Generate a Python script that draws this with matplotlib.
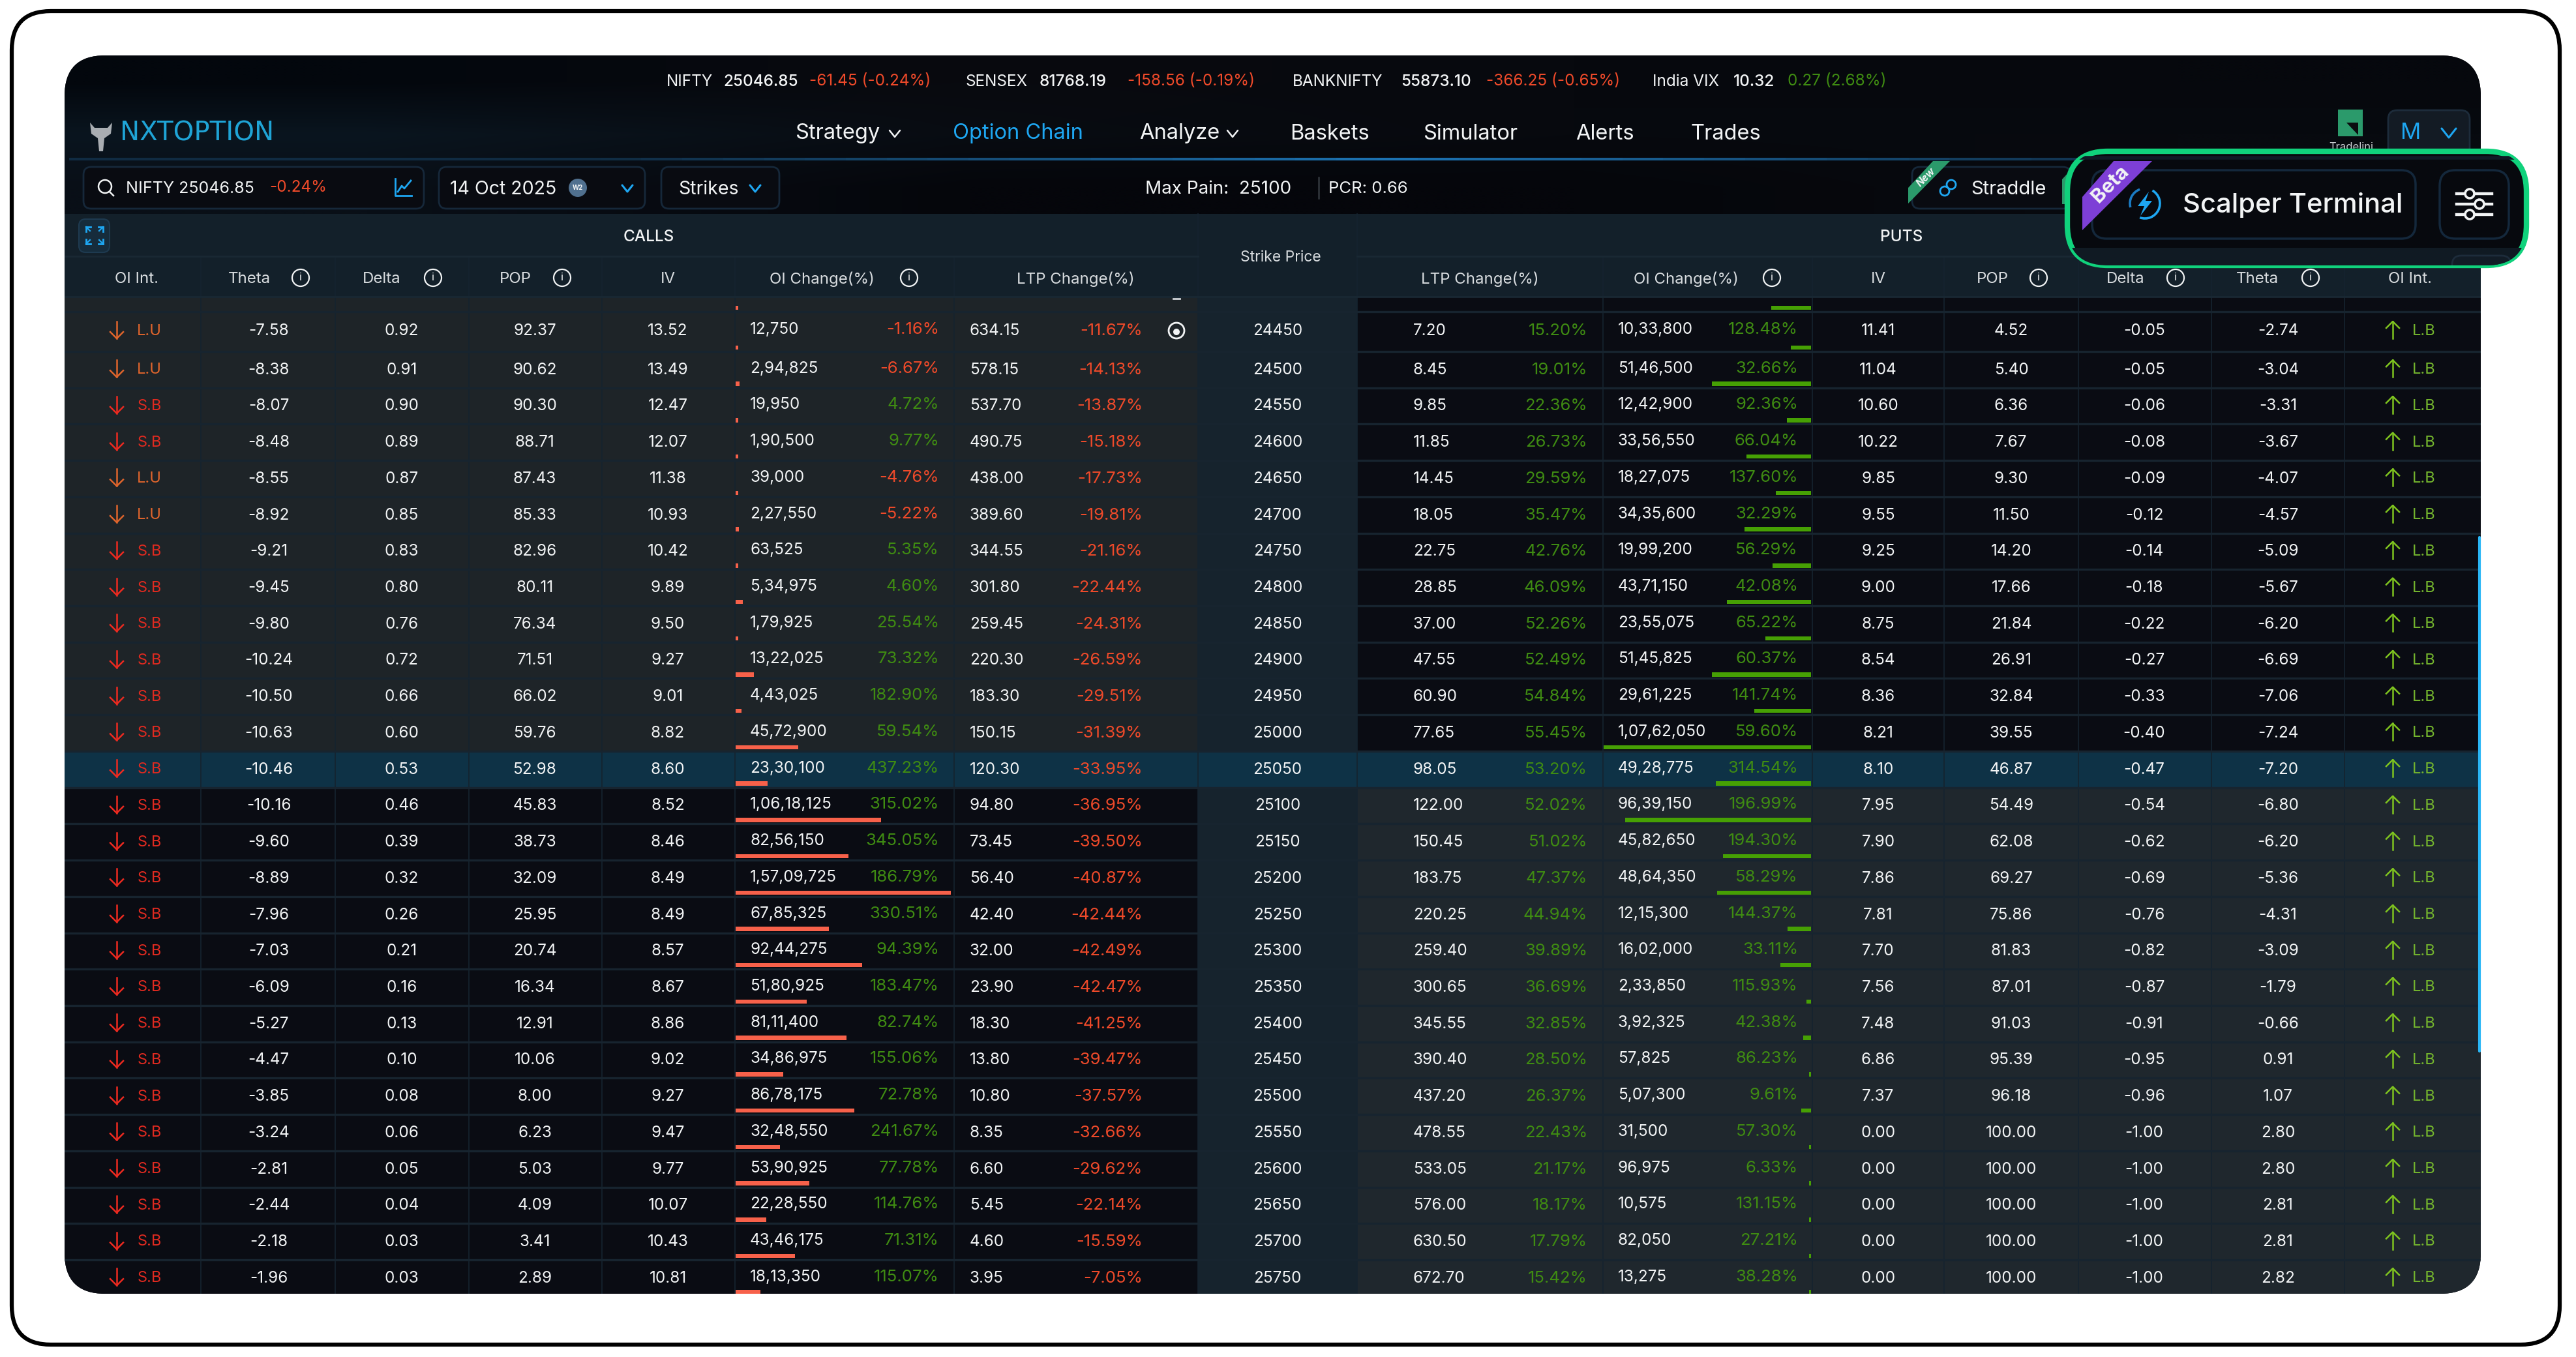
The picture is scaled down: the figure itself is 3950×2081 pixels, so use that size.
import numpy as np
import matplotlib
matplotlib.use("Agg")
import matplotlib.pyplot as plt
from matplotlib.patches import FancyBboxPatch, Rectangle, Circle, Polygon, Arc

plt.rcParams['font.family'] = ['Inter', 'DejaVu Sans']

strikes = [24450,24500,24550,24600,24650,24700,24750,24800,24850,24900,24950,25000,25050,25100,
           25150,25200,25250,25300,25350,25400,25450,25500,25550,25600,25650,25700,25750]
call_build = ["L.U","L.U","S.B","S.B","L.U","L.U"] + ["S.B"]*21
call_theta = ["-7.58","-8.38","-8.07","-8.48","-8.55","-8.92","-9.21","-9.45","-9.80","-10.24","-10.50","-10.63","-10.46","-10.16",
              "-9.60","-8.89","-7.96","-7.03","-6.09","-5.27","-4.47","-3.85","-3.24","-2.81","-2.44","-2.18","-1.96"]
call_delta = ["0.92","0.91","0.90","0.89","0.87","0.85","0.83","0.80","0.76","0.72","0.66","0.60","0.53","0.46",
              "0.39","0.32","0.26","0.21","0.16","0.13","0.10","0.08","0.06","0.05","0.04","0.03","0.03"]
call_pop = ["92.37","90.62","90.30","88.71","87.43","85.33","82.96","80.11","76.34","71.51","66.02","59.76","52.98","45.83",
            "38.73","32.09","25.95","20.74","16.34","12.91","10.06","8.00","6.23","5.03","4.09","3.41","2.89"]
call_iv = ["13.52","13.49","12.47","12.07","11.38","10.93","10.42","9.89","9.50","9.27","9.01","8.82","8.60","8.52",
           "8.46","8.49","8.49","8.57","8.67","8.86","9.02","9.27","9.47","9.77","10.07","10.43","10.81"]
call_oi = ["12,750","2,94,825","19,950","1,90,500","39,000","2,27,550","63,525","5,34,975","1,79,925","13,22,025","4,43,025","45,72,900","23,30,100","1,06,18,125",
           "82,56,150","1,57,09,725","67,85,325","92,44,275","51,80,925","81,11,400","34,86,975","86,78,175","32,48,550","53,90,925","22,28,550","43,46,175","18,13,350"]
call_oi_chg = ["-1.16","-6.67","4.72","9.77","-4.76","-5.22","5.35","4.60","25.54","73.32","182.90","59.54","437.23","315.02",
               "345.05","186.79","330.51","94.39","183.47","82.74","155.06","72.78","241.67","77.78","114.76","71.31","115.07"]
call_ltp = ["634.15","578.15","537.70","490.75","438.00","389.60","344.55","301.80","259.45","220.30","183.30","150.15","120.30","94.80",
            "73.45","56.40","42.40","32.00","23.90","18.30","13.80","10.80","8.35","6.60","5.45","4.60","3.95"]
call_ltp_chg = ["-11.67","-14.13","-13.87","-15.18","-17.73","-19.81","-21.16","-22.44","-24.31","-26.59","-29.51","-31.39","-33.95","-36.95",
                "-39.50","-40.87","-42.44","-42.49","-42.47","-41.25","-39.47","-37.57","-32.66","-29.62","-22.14","-15.59","-7.05"]

put_ltp = ["7.20","8.45","9.85","11.85","14.45","18.05","22.75","28.85","37.00","47.55","60.90","77.65","98.05","122.00",
           "150.45","183.75","220.25","259.40","300.65","345.55","390.40","437.20","478.55","533.05","576.00","630.50","672.70"]
put_ltp_chg = ["15.20","19.01","22.36","26.73","29.59","35.47","42.76","46.09","52.26","52.49","54.84","55.45","53.20","52.02",
               "51.02","47.37","44.94","39.89","36.69","32.85","28.50","26.37","22.43","21.17","18.17","17.79","15.42"]
put_oi = ["10,33,800","51,46,500","12,42,900","33,56,550","18,27,075","34,35,600","19,99,200","43,71,150","23,55,075","51,45,825","29,61,225","1,07,62,050","49,28,775","96,39,150",
          "45,82,650","48,64,350","12,15,300","16,02,000","2,33,850","3,92,325","57,825","5,07,300","31,500","96,975","10,575","82,050","13,275"]
put_oi_chg = ["128.48","32.66","92.36","66.04","137.60","32.29","56.29","42.08","65.22","60.37","141.74","59.60","314.54","196.99",
              "194.30","58.29","144.37","33.11","115.93","42.38","86.23","9.61","57.30","6.33","131.15","27.21","38.28"]
put_iv = ["11.41","11.04","10.60","10.22","9.85","9.55","9.25","9.00","8.75","8.54","8.36","8.21","8.10","7.95",
          "7.90","7.86","7.81","7.70","7.56","7.48","6.86","7.37","0.00","0.00","0.00","0.00","0.00"]
put_pop = ["4.52","5.40","6.36","7.67","9.30","11.50","14.20","17.66","21.84","26.91","32.84","39.55","46.87","54.49",
           "62.08","69.27","75.86","81.83","87.01","91.03","95.39","96.18","100.00","100.00","100.00","100.00","100.00"]
put_delta = ["-0.05","-0.05","-0.06","-0.08","-0.09","-0.12","-0.14","-0.18","-0.22","-0.27","-0.33","-0.40","-0.47","-0.54",
             "-0.62","-0.69","-0.76","-0.82","-0.87","-0.91","-0.95","-0.96","-1.00","-1.00","-1.00","-1.00","-1.00"]
put_theta = ["-2.74","-3.04","-3.31","-3.67","-4.07","-4.57","-5.09","-5.67","-6.20","-6.69","-7.06","-7.24","-7.20","-6.80",
             "-6.20","-5.36","-4.31","-3.09","-1.79","-0.66","0.91","1.07","2.80","2.80","2.81","2.81","2.82"]

hidden_call_oi = 12000     # row scrolled away above 24450, only its bar shows
hidden_put_oi = 2060000

tickers = [("NIFTY","25046.85","-61.45 (-0.24%)"),("SENSEX","81768.19","-158.56 (-0.19%)"),
           ("BANKNIFTY","55873.10","-366.25 (-0.65%)"),("India VIX","10.32","0.27 (2.68%)")]
nav_items = ["Strategy","Option Chain","Analyze","Baskets","Simulator","Alerts","Trades"]

WHITE = "#f2f4f5"
RED = "#ef4a2a"
GREEN = "#3f8c12"
BAR_RED = "#f7614a"
BAR_GREEN = "#46a004"
LINE = "#15232f"
GREY_ROW = "#1e2428"
DARK_ROW = "#0a0c13"
PUT_GREY = "#1f272d"
HI_ROW = "#0e3246"
HEAD = "#13202a"
BLUE = "#1ea7f2"

fig = plt.figure(figsize=(39.5, 20.81), dpi=100, facecolor="white")
ax = fig.add_axes([0, 0, 1, 1])
ax.set_xlim(0, 3950)
ax.set_ylim(2081, 0)
ax.axis("off")

def rbox(x0, y0, x1, y1, r, **kw):
    p = FancyBboxPatch((x0 + r, y0 + r), x1 - x0 - 2 * r, y1 - y0 - 2 * r,
                       boxstyle="round,pad=%f,rounding_size=%f" % (r, r), **kw)
    ax.add_patch(p)
    return p

def txt(x, y, s, c=WHITE, size=17.5, ha="center", **kw):
    # Inter sits a little high with va=center
    return ax.text(x, y + 2, s, color=c, fontsize=size, ha=ha, va="center", **kw)

def chevron(x, y, w, h, c, lw=2.2, z=7):
    ax.plot([x - w, x, x + w], [y - h, y + h, y - h], color=c, lw=lw, solid_capstyle="round", zorder=z)

def row_arrow(x, y, up, c):
    d = -1 if up else 1
    ax.plot([x, x], [y - 13, y + 13], color=c, lw=1.8, zorder=6)
    ax.plot([x - 10, x, x + 10], [y + d * 3, y + d * 13, y + d * 3], color=c, lw=1.8, zorder=6)

def info(x, y):
    ax.add_patch(Circle((x, y), 13, fill=False, ec=WHITE, lw=1.6, zorder=5))
    txt(x, y - 2, "i", size=12, zorder=6)

# outer white card with black frame
rbox(18, 17, 3925, 2062, 60, fc="white", ec="black", lw=4.5)

# dark app panel
panel = rbox(99, 85, 3804, 1984, 62, fc="#07090f", ec="none")

def clipped(a):
    a.set_clip_path(panel)
    return a

top = np.array([[[3, 7, 13], [9, 10, 15], [7, 9, 14], [6, 8, 13]],
                [[10, 21, 31], [8, 12, 18], [7, 9, 14], [7, 10, 15]],
                [[9, 15, 23], [5, 6, 11], [5, 6, 11], [8, 10, 15]]], dtype=float) / 255
clipped(ax.imshow(top, extent=(99, 3804, 328, 85), aspect="auto", interpolation="bilinear", zorder=1))
ax.set_xlim(0, 3950)
ax.set_ylim(2081, 0)

col_edges = [99, 308, 514, 719, 923, 1127, 1463, 1837, 2081, 2458, 2779, 2981, 3187, 3391, 3595, 3804]
HEAD_TOP = 328
GROUP_BOT = 393
LABEL_BOT = 455
FIRST_TOP = 478
ROW0_BOT = 539
ROW_H = 55.72
HI = strikes.index(25050)

# table background
clipped(ax.add_patch(Rectangle((99, HEAD_TOP), 3705, LABEL_BOT - HEAD_TOP, fc=HEAD, ec="none", zorder=2)))
row_tops = [FIRST_TOP] + [ROW0_BOT + ROW_H * i for i in range(len(strikes) - 1)]
row_bots = [ROW0_BOT + ROW_H * i for i in range(len(strikes))]
clipped(ax.add_patch(Rectangle((99, LABEL_BOT), 1738, FIRST_TOP - LABEL_BOT, fc=GREY_ROW, ec="none", zorder=2)))
clipped(ax.add_patch(Rectangle((2081, LABEL_BOT), 1723, FIRST_TOP - LABEL_BOT, fc=DARK_ROW, ec="none", zorder=2)))
clipped(ax.add_patch(Rectangle((1837, LABEL_BOT), 244, 1984 - LABEL_BOT, fc="#16232d", ec="none", zorder=2)))
for i, s in enumerate(strikes):
    h = row_bots[i] - row_tops[i]
    lc = GREY_ROW if i < HI else DARK_ROW
    rc = DARK_ROW if i < HI else PUT_GREY
    if i == HI:
        lc = rc = HI_ROW
        clipped(ax.add_patch(Rectangle((1837, row_tops[i]), 244, h, fc=HI_ROW, ec="none", zorder=2.1)))
    clipped(ax.add_patch(Rectangle((99, row_tops[i]), 1738, h, fc=lc, ec="none", zorder=2)))
    clipped(ax.add_patch(Rectangle((2081, row_tops[i]), 1723, h, fc=rc, ec="none", zorder=2)))

# grid lines
for x in col_edges[1:-1]:
    y0 = HEAD_TOP if x in (1837, 2081) else GROUP_BOT
    clipped(ax.plot([x, x], [y0, 1984], color=LINE, lw=1.2, zorder=3)[0])
clipped(ax.plot([99, 1837], [GROUP_BOT, GROUP_BOT], color="#192833", lw=2, zorder=3)[0])
clipped(ax.plot([2081, 3804], [GROUP_BOT, GROUP_BOT], color="#192833", lw=2, zorder=3)[0])
clipped(ax.plot([99, 3804], [LABEL_BOT, LABEL_BOT], color="#192833", lw=2, zorder=3)[0])
for y in [FIRST_TOP] + row_bots[:-1]:
    clipped(ax.plot([99, 3804], [y, y], color="#17242f", lw=2.4, zorder=3)[0])

# ticker strip
ticker_x = [(1022, 1109, 1241), (1480, 1594, 1729), (1982, 2148, 2279), (2534, 2658, 2741)]
for (name, val, chg), (x0, x1, x2) in zip(tickers, ticker_x):
    txt(x0, 123, name, size=17.5, ha="left", zorder=6)
    txt(x1, 123, val, size=17.5, ha="left", zorder=6, fontweight="medium")
    txt(x2, 123, chg, c=GREEN if chg[0] != "-" else RED, size=17.5, ha="left", zorder=6)

# logo and nav
txt(184, 203, "NXTOPTION", c="#1fa4d6", size=29, ha="left", zorder=6, family="DejaVu Sans")
ax.add_patch(Polygon([(138, 188), (145, 196), (165, 196), (172, 188), (170, 205), (160, 212), (158, 232), (152, 232), (150, 212), (140, 205)],
                     fc="#a9adb2", ec="none", zorder=6))
nav_x = [1219, 1461, 1747, 1978, 2182, 2416, 2592]
for name, x in zip(nav_items, nav_x):
    txt(x, 203, name, c=BLUE if name == "Option Chain" else WHITE, size=23.5, ha="left", zorder=6)
chevron(1372, 205, 8, 5, WHITE, 1.8)
chevron(1890, 205, 8, 5, WHITE, 1.8)

# blue divider under nav, brighter in the middle
seg_x = np.linspace(106, 3804, 60)
for k in range(59):
    a = max(0.2, 1 - abs((seg_x[k] - 2100) / 1500))
    clipped(ax.plot(seg_x[k:k + 2], [244, 244], color=(0.06 * a + 0.05, 0.35 * a + 0.1, 0.55 * a + 0.15), lw=3, zorder=3, solid_capstyle="butt")[0])

# toolbar
for box in [(128, 256, 650, 320), (673, 256, 989, 320), (1014, 256, 1195, 320), (2932, 256, 3175, 320)]:
    rbox(box[0], box[1], box[2], box[3], 12, fc="#090b11", ec="#16283a", lw=2, zorder=4)
ax.add_patch(Circle((161, 286), 10, fill=False, ec=WHITE, lw=1.8, zorder=6))
ax.plot([168, 174], [294, 300], color=WHITE, lw=1.8, zorder=6)
txt(193, 287, "NIFTY 25046.85", size=18, ha="left", zorder=6)
txt(413, 285, "-0.24%", c=RED, size=17.5, ha="left", zorder=6)
ax.plot([606, 606, 631], [274, 300, 300], color=BLUE, lw=2, zorder=6)
ax.plot([610, 616, 620, 630], [294, 285, 289, 277], color=BLUE, lw=2, zorder=6)
txt(690, 288, "14 Oct 2025", size=20.5, ha="left", zorder=6)
ax.add_patch(Circle((886, 288), 14, fc="#50708f", ec="none", zorder=6))
txt(886, 286, "W2", size=7, zorder=7, fontweight="bold")
chevron(962, 289, 8, 5, BLUE)
txt(1040, 288, "Strikes", size=20.5, ha="left", zorder=6)
chevron(1158, 289, 8, 5, BLUE)
txt(1756, 288, "Max Pain:  25100", size=20, ha="left", zorder=6)
ax.plot([2022, 2022], [272, 304], color="#33383e", lw=1.8, zorder=6)
txt(2037, 288, "PCR: 0.66", size=18.5, ha="left", zorder=6)
txt(3022, 288, "Straddle", size=21, ha="left", zorder=6)
ax.add_patch(Polygon([(2964, 247), (2990, 247), (2926, 312), (2926, 288)], fc="#2b9a6b", ec="none", zorder=6))
txt(2953, 270, "New", size=11, rotation=45, zorder=7, fontweight="bold", style="italic")
for dy in (-5, 5):
    ax.add_patch(Circle((2987 + -dy, 288 + dy), 7, fill=False, ec=BLUE, lw=2, zorder=6))

# tradelini and user box
ax.add_patch(Rectangle((3585, 168), 38, 41, fc="#2b9a6b", ec="none", zorder=5))
ax.add_patch(Polygon([(3598, 188), (3616, 188), (3616, 207)], fc="#0b0d10", ec="none", zorder=6))
txt(3605, 224, "Tradelini", size=12, zorder=5, c="#c8ccd0")
rbox(3662, 169, 3787, 250, 14, fc="#131b24", ec="#1d2c3b", lw=2, zorder=4)
txt(3697, 202, "M", c=BLUE, size=25, zorder=6)
chevron(3755, 204, 11, 7, BLUE)

# scroll bar
ax.plot([3802, 3802], [824, 1612], color="#29b6f6", lw=3, zorder=6, solid_capstyle="round")

# table head
rbox(121, 336, 168, 387, 10, fc="#162c3c", ec="#1e3a50", lw=1.5, zorder=5)
for sx, sy in [(-1, -1), (1, -1), (-1, 1), (1, 1)]:
    cx, cy = 145 + sx * 13, 361 + sy * 13
    ax.plot([cx, cx - sx * 7], [cy, cy], color=BLUE, lw=2, zorder=6)
    ax.plot([cx, cx], [cy, cy - sy * 7], color=BLUE, lw=2, zorder=6)
    ax.plot([cx, cx - sx * 6], [cy, cy - sy * 6], color=BLUE, lw=1.6, zorder=6)
txt(995, 362, "CALLS", size=17.5, zorder=6, fontweight="medium")
txt(2916, 362, "PUTS", size=17.5, zorder=6, fontweight="medium")
txt(1964, 393, "Strike Price", size=16.5, zorder=6, c="#d8dcdf")
head_labels = [(209, "OI Int.", None), (382, "Theta", 461), (585, "Delta", 664), (790, "POP", 862), (1024, "IV", None),
               (1260, "OI Change(%)", 1394), (1649, "LTP Change(%)", None), (2269, "LTP Change(%)", None), (2585, "OI Change(%)", 2717),
               (2880, "IV", None), (3055, "POP", 3126), (3259, "Delta", 3336), (3461, "Theta", 3543), (3696, "OI Int.", None)]
for x, name, ix in head_labels:
    txt(x, 426, name, size=17.3, zorder=6, c="#d8dcdf")
    if ix:
        info(ix, 426)

# bars are scaled on OI, biggest fills most of the cell
call_vals = np.array([int(v.replace(",", "")) for v in call_oi] + [hidden_call_oi], dtype=float)
put_vals = np.array([int(v.replace(",", "")) for v in put_oi] + [hidden_put_oi], dtype=float)
bar_y = [y - 6 for y in row_bots] + [FIRST_TOP - 6]
call_w = np.maximum(call_vals / call_vals.max() * 330, 3.5)
put_w = np.maximum(put_vals / put_vals.max() * 318, 3.5)
for b in ax.barh(bar_y, call_w, left=1128, height=6.5, color=BAR_RED, zorder=4):
    clipped(b)
for b in ax.barh(bar_y, -put_w, left=2777, height=6.5, color=BAR_GREEN, zorder=4):
    clipped(b)

# rows
for i, s in enumerate(strikes):
    yc = row_bots[i] - (33 if i == 0 else 29.5)
    yo = yc - 2
    bc = "#e0652c" if call_build[i] == "L.U" else "#e02a20"
    row_arrow(179, yc, False, "#e0652c" if call_build[i] == "L.U" else "#ee2a20")
    txt(229, yc, call_build[i], c=bc, size=17, zorder=6)
    txt(412, yc, call_theta[i], zorder=6)
    txt(616, yc, call_delta[i], zorder=6)
    txt(820, yc, call_pop[i], zorder=6)
    txt(1024, yc, call_iv[i], zorder=6)
    txt(1150, yo, call_oi[i], ha="left", zorder=6)
    chg = call_oi_chg[i]
    txt(1440, yo, chg + "%", c=RED if chg[0] == "-" else GREEN, ha="right", size=18.5, zorder=6)
    txt(1487, yc, call_ltp[i], ha="left", zorder=6)
    txt(1752, yc, call_ltp_chg[i] + "%", c=RED, ha="right", size=18.5, zorder=6)
    txt(1959, yc, str(s), zorder=6)
    txt(2167, yc, put_ltp[i], ha="left", zorder=6)
    txt(2434, yc, put_ltp_chg[i] + "%", c=GREEN, ha="right", size=18.5, zorder=6)
    txt(2481, yo, put_oi[i], ha="left", zorder=6)
    txt(2757, yo, put_oi_chg[i] + "%", c=GREEN, ha="right", size=18.5, zorder=6)
    txt(2880, yc, put_iv[i], zorder=6)
    txt(3084, yc, put_pop[i], zorder=6)
    txt(3288, yc, put_delta[i], zorder=6)
    txt(3493, yc, put_theta[i], zorder=6)
    row_arrow(3669, yc, True, "#7fc41f")
    txt(3717, yc, "L.B", c="#74b52e", size=17, zorder=6)

# flame marker on first row and the stray dash above it
ax.add_patch(Circle((1804, 507), 12, fill=False, ec=WHITE, lw=2, zorder=6))
ax.add_patch(Circle((1804, 509), 5, fc=WHITE, ec="none", zorder=6))
ax.plot([1799, 1809], [458, 458], color="#cfd3d6", lw=2, zorder=6)

# highlighted scalper area, drawn over the rest
ax.add_patch(Polygon([(3162, 275), (3174, 262), (3174, 313), (3162, 313)], fc="#2b9a6b", ec="none", zorder=7))
glow = rbox(3170, 232, 3874, 407, 62, fc="#07090e", ec="#10d27c", lw=6, zorder=8)
def in_glow(a):
    a.set_clip_path(glow)
    return a
in_glow(ax.add_patch(Rectangle((3170, 380), 704, 30, fc="#101a23", ec="none", zorder=8.1)))
in_glow(ax.plot([3170, 3874], [242, 242], color="#101a26", lw=4, zorder=8.1)[0])
in_glow(rbox(3760, 392, 3850, 440, 14, fc="#121c26", ec="#1d2c3b", lw=2, zorder=8.1))
rbox(3208, 261, 3704, 366, 22, fc="#07090e", ec="#14283c", lw=2.5, zorder=8.2)
rbox(3741, 261, 3847, 366, 24, fc="#07090e", ec="#14283c", lw=2.5, zorder=8.2)
ax.add_patch(Polygon([(3241, 247), (3300, 247), (3193, 353), (3193, 302)], fc="#7d3fd6", ec="none", zorder=8.4))
txt(3236, 281, "Beta", size=22, rotation=45, zorder=8.5, fontweight="bold")
ax.add_patch(Arc((3289, 312), 46, 46, theta1=-60, theta2=110, ec=BLUE, lw=2.6, zorder=8.5))
ax.add_patch(Arc((3289, 312), 46, 46, theta1=165, theta2=250, ec="#1b7cc4", lw=2.6, zorder=8.5))
ax.add_patch(Polygon([(3295, 294), (3278, 316), (3288, 316), (3282, 331), (3300, 308), (3290, 308)], fc=BLUE, ec="none", zorder=8.5))
txt(3347, 312, "Scalper Terminal", size=30, ha="left", zorder=8.5, fontweight="medium")
for yy, cx in [(297, 3787), (313, 3802), (329, 3787)]:
    ax.plot([3767, 3821], [yy, yy], color=WHITE, lw=3.2, zorder=8.5)
    ax.add_patch(Circle((cx, yy), 7, fc="#07090e", ec=WHITE, lw=2.6, zorder=8.6))

fig.savefig("out.png", dpi=100, facecolor="white")
